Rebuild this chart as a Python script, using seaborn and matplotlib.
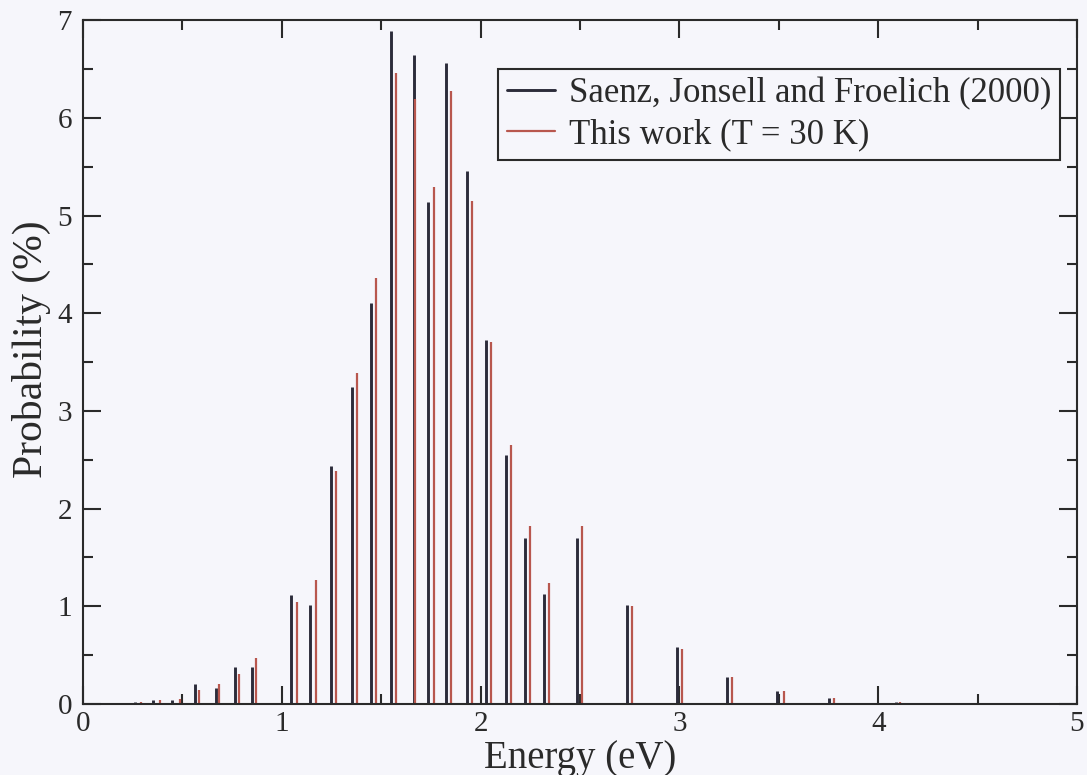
import numpy as np
import pandas as pd
import seaborn as sns
import matplotlib.pyplot as plt
from matplotlib.lines import Line2D

sns.set_style('ticks')
plt.rcParams['font.family'] = ['Liberation Serif', 'DejaVu Serif']

# Saenz, Jonsell and Froelich (2000) -- stick spectrum
saenz_energy = [0.26, 0.354, 0.446, 0.561, 0.668, 0.763, 0.852, 1.047, 1.143,
                1.247, 1.354, 1.448, 1.549, 1.663, 1.737, 1.827, 1.931, 2.029,
                2.126, 2.222, 2.32, 2.486, 2.736, 2.988, 3.241, 3.493, 3.754, 4.09]
saenz_prob = [0.02, 0.045, 0.04, 0.2, 0.16, 0.38, 0.375, 1.12, 1.01,
              2.44, 3.24, 4.1, 6.89, 6.64, 5.14, 6.56, 5.46, 3.73,
              2.55, 1.70, 1.13, 1.70, 1.01, 0.58, 0.28, 0.13, 0.065, 0.02]

# This work (T = 30 K)
this_energy = [0.29, 0.387, 0.488, 0.582, 0.685, 0.785, 0.87, 1.077, 1.173,
               1.273, 1.377, 1.473, 1.574, 1.672, 1.764, 1.852, 1.958, 2.054,
               2.152, 2.247, 2.345, 2.508, 2.761, 3.014, 3.266, 3.524, 3.779, 4.11]
this_prob = [0.02, 0.04, 0.055, 0.14, 0.2, 0.31, 0.47, 1.045, 1.27,
             2.39, 3.39, 4.36, 6.46, 6.19, 5.29, 6.27, 5.15, 3.71,
             2.65, 1.82, 1.24, 1.82, 1.00, 0.56, 0.28, 0.13, 0.06, 0.02]

x_ticks = [0, 1, 2, 3, 4, 5]
y_ticks = [0, 1, 2, 3, 4, 5, 6, 7]

black = '#2c2c3a'
red = '#b8574e'
bg = '#f6f6fb'
txt = '#2a2a2a'

df_saenz = pd.DataFrame({'Energy': saenz_energy, 'Prob': saenz_prob})
df_this = pd.DataFrame({'Energy': this_energy, 'Prob': this_prob})

fig = plt.figure(figsize=(10.87, 7.75), dpi=100, facecolor=bg)
ax = fig.add_axes([0.0764, 0.0916, 0.9144, 0.8824])
ax.set_facecolor(bg)

ax.vlines(df_saenz['Energy'], 0, df_saenz['Prob'], color=black, lw=2.1)
ax.vlines(df_this['Energy'], 0, df_this['Prob'], color=red, lw=1.6)

ax.set_xlim(0, 5)
ax.set_ylim(0, 7)
ax.set_xticks(x_ticks)
ax.set_yticks(y_ticks)
ax.set_xticks(np.arange(0.5, 5, 1.0), minor=True)
ax.set_yticks(np.arange(0.5, 7, 1.0), minor=True)
ax.tick_params(which='both', direction='in', top=True, right=True,
               color=txt, width=1.5)
ax.tick_params(which='major', length=13, labelsize=21, labelcolor=txt)
ax.tick_params(axis='y', which='major', pad=8)
ax.tick_params(axis='x', which='major', pad=5)
ax.tick_params(which='minor', length=7)
for sp in ax.spines.values():
    sp.set_linewidth(1.5)
    sp.set_color(txt)

ax.set_xlabel('Energy (eV)', fontsize=28, color=txt, labelpad=2)
ax.set_ylabel('Probability (%)', fontsize=30, color=txt)
ax.yaxis.set_label_coords(-0.032, 0.519)

handles = [Line2D([], [], color=black, lw=2.1),
           Line2D([], [], color=red, lw=1.6)]
labels = ['Saenz, Jonsell and Froelich (2000)', 'This work (T = 30 K)']
leg = ax.legend(handles, labels, loc='upper right', bbox_to_anchor=(0.983, 0.929),
                fontsize=25, frameon=True, fancybox=False, framealpha=1,
                borderpad=0.25, handlelength=1.4, handletextpad=0.4,
                labelspacing=0.22, borderaxespad=0)
leg.get_frame().set_edgecolor(txt)
leg.get_frame().set_linewidth(1.5)
leg.get_frame().set_facecolor(bg)
for t in leg.get_texts():
    t.set_color(txt)

fig.savefig('out.png', dpi=100, facecolor=bg)
